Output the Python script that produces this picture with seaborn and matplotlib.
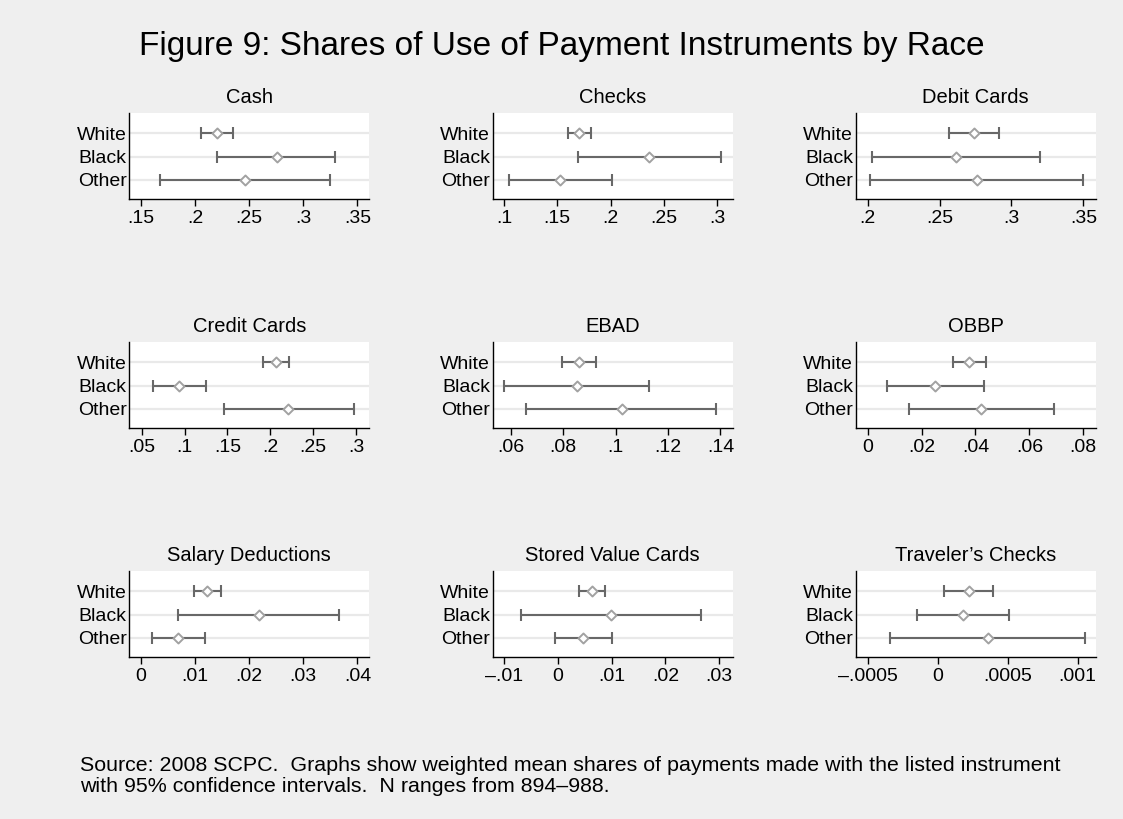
import numpy as np
import pandas as pd
import seaborn as sns
import matplotlib.pyplot as plt

# Data: weighted mean share and 95% CI per race group
races = ["White", "Black", "Other"]
instruments = ["Cash", "Checks", "Debit Cards",
               "Credit Cards", "EBAD", "OBBP",
               "Salary Deductions", "Stored Value Cards", "Traveler\u2019s Checks"]

cash_mean = [0.220, 0.2753, 0.246]
cash_lo = [0.2056, 0.220, 0.1673]
cash_hi = [0.235, 0.3296, 0.3244]

checks_mean = [0.1708, 0.2363, 0.1530]
checks_lo = [0.160, 0.1695, 0.1047]
checks_hi = [0.1815, 0.3035, 0.2015]

debit_mean = [0.2740, 0.2617, 0.2760]
debit_lo = [0.2568, 0.2032, 0.2016]
debit_hi = [0.2914, 0.3200, 0.3500]

credit_mean = [0.2069, 0.0935, 0.2211]
credit_lo = [0.1912, 0.0628, 0.1464]
credit_hi = [0.2222, 0.1247, 0.2973]

ebad_mean = [0.0860, 0.0851, 0.1023]
ebad_lo = [0.0795, 0.0573, 0.0659]
ebad_hi = [0.0925, 0.1126, 0.1385]

obbp_mean = [0.0377, 0.0251, 0.0422]
obbp_lo = [0.0315, 0.0072, 0.0153]
obbp_hi = [0.0440, 0.0432, 0.0691]

salary_mean = [0.01228, 0.0218, 0.00685]
salary_lo = [0.00976, 0.00691, 0.00198]
salary_hi = [0.01481, 0.0366, 0.0118]

stored_mean = [0.00639, 0.0098, 0.00477]
stored_lo = [0.00402, -0.00689, -0.00045]
stored_hi = [0.00875, 0.0267, 0.01006]

travel_mean = [0.000227, 0.000179, 0.000358]
travel_lo = [0.000048, -0.00015, -0.000338]
travel_hi = [0.000398, 0.00051, 0.00105]

means = [cash_mean, checks_mean, debit_mean, credit_mean, ebad_mean,
         obbp_mean, salary_mean, stored_mean, travel_mean]
lows = [cash_lo, checks_lo, debit_lo, credit_lo, ebad_lo,
        obbp_lo, salary_lo, stored_lo, travel_lo]
highs = [cash_hi, checks_hi, debit_hi, credit_hi, ebad_hi,
         obbp_hi, salary_hi, stored_hi, travel_hi]

# x ticks and their Stata-style labels
tick_vals = [
    [0.15, 0.2, 0.25, 0.3, 0.35],
    [0.1, 0.15, 0.2, 0.25, 0.3],
    [0.2, 0.25, 0.3, 0.35],
    [0.05, 0.1, 0.15, 0.2, 0.25, 0.3],
    [0.06, 0.08, 0.1, 0.12, 0.14],
    [0, 0.02, 0.04, 0.06, 0.08],
    [0, 0.01, 0.02, 0.03, 0.04],
    [-0.01, 0, 0.01, 0.02, 0.03],
    [-0.0005, 0, 0.0005, 0.001],
]
tick_labels = [
    [".15", ".2", ".25", ".3", ".35"],
    [".1", ".15", ".2", ".25", ".3"],
    [".2", ".25", ".3", ".35"],
    [".05", ".1", ".15", ".2", ".25", ".3"],
    [".06", ".08", ".1", ".12", ".14"],
    ["0", ".02", ".04", ".06", ".08"],
    ["0", ".01", ".02", ".03", ".04"],
    ["\u2013.01", "0", ".01", ".02", ".03"],
    ["\u2013.0005", "0", ".0005", ".001"],
]

# axis ranges (layout)
x_limits = [(0.139, 0.361), (0.0894, 0.3147), (0.1917, 0.3586),
            (0.0355, 0.3155), (0.0531, 0.1447), (-0.00445, 0.0846),
            (-0.00217, 0.0422), (-0.0121, 0.0325), (-0.000586, 0.00113)]

sns.set_theme(style="white")
plt.rcParams['font.family'] = ['Liberation Sans', 'DejaVu Sans']
plt.rcParams['text.color'] = 'black'
plt.rcParams['xtick.color'] = 'black'
plt.rcParams['ytick.color'] = 'black'
plt.rcParams['axes.titlecolor'] = 'black'

W, H = 1123, 819
bg = "#efefef"
fig = plt.figure(figsize=(W / 100, H / 100), dpi=100, facecolor=bg)

col_left = [129.3, 492.7, 855.7]
row_top = [113, 342, 571]
ax_w, ax_h = 240, 86

for i, name in enumerate(instruments):
    r, c = divmod(i, 3)
    ax = fig.add_axes([col_left[c] / W, 1 - (row_top[r] + ax_h) / H, ax_w / W, ax_h / H])
    ax.set_facecolor("white")

    df = pd.DataFrame({"race": races, "mean": means[i], "lo": lows[i], "hi": highs[i]})
    ypos = np.arange(len(races))

    for y in ypos:
        ax.axhline(y, color="#e9e9e9", lw=1.6, zorder=0)

    ax.errorbar(df["mean"], ypos,
                xerr=[df["mean"] - df["lo"], df["hi"] - df["mean"]],
                fmt="none", ecolor="#686868", elinewidth=1.5,
                capsize=4.2, capthick=1.5, zorder=2)
    sns.scatterplot(x=df["mean"], y=ypos, marker="D", s=26,
                    facecolor="white", edgecolor="#a2a2a2", linewidth=1.4,
                    ax=ax, zorder=3, legend=False)

    ax.set_xlim(*x_limits[i])
    ax.set_ylim(2.82, -0.87)
    ax.set_xticks(tick_vals[i])
    ax.set_xticklabels(tick_labels[i])
    ax.set_yticks(ypos)
    ax.set_yticklabels(races)
    ax.set_xlabel("")
    ax.set_ylabel("")
    ax.set_title(name, fontsize=14.5, pad=7)

    for side in ["top", "right"]:
        ax.spines[side].set_visible(False)
    for side in ["left", "bottom"]:
        ax.spines[side].set_color("black")
        ax.spines[side].set_linewidth(1.0)
    ax.tick_params(axis="x", length=5, width=1, color="black", labelsize=14, pad=3,
                   bottom=True)
    ax.tick_params(axis="y", length=0, labelsize=14, pad=2)

fig.text(0.5, 1 - 47 / H, "Figure 9: Shares of Use of Payment Instruments by Race",
         ha="center", va="center", fontsize=24)
fig.text(80 / W, 1 - 776 / H,
         "Source: 2008 SCPC.  Graphs show weighted mean shares of payments made with the listed instrument\n"
         "with 95% confidence intervals.  N ranges from 894\u2013988.",
         ha="left", va="center", fontsize=15.4, linespacing=1.1)

fig.savefig("out.png", dpi=100, facecolor=bg)
